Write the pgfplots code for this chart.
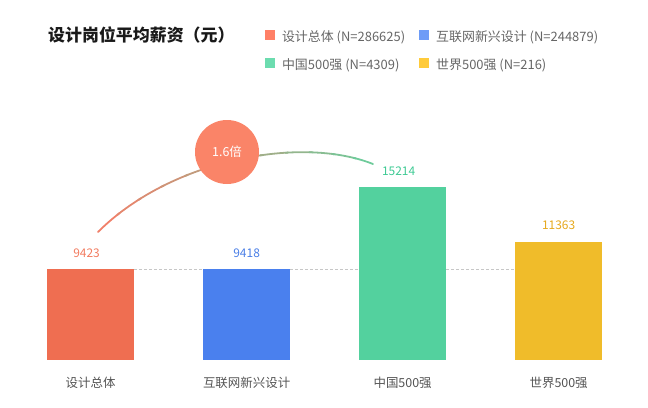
\documentclass[border=0pt]{standalone}
\usepackage{fontspec}
\setmainfont{Noto Sans CJK SC}
\usepackage{pgfplots}
\pgfplotsset{compat=1.18}
\definecolor{c1}{HTML}{EF6E51}
\definecolor{c2}{HTML}{4A80EE}
\definecolor{c3}{HTML}{53D19E}
\definecolor{c4}{HTML}{F0BC2A}
\definecolor{l1}{HTML}{FF8066}
\definecolor{l2}{HTML}{6E9CF7}
\definecolor{l3}{HTML}{6CDCAF}
\definecolor{l4}{HTML}{FFCB3B}
\definecolor{t1}{HTML}{F27C60}
\definecolor{t2}{HTML}{4B7FE6}
\definecolor{t3}{HTML}{3FCA94}
\definecolor{t4}{HTML}{E6A91E}
\definecolor{arcS}{HTML}{F0806A}
\definecolor{arcG}{HTML}{6FCB9B}
\definecolor{circ}{HTML}{FA8468}
\begin{document}
\begin{tikzpicture}[x=1bp,y=1bp]
\path (0,0) rectangle (648,407);
\node[anchor=west, font=\bfseries\fontsize{17}{20}\selectfont, text=black!90, inner sep=0pt] at (48,372) {设计岗位平均薪资（元）};
% connecting arc
\foreach \i in {0,...,11} {
  \pgfmathsetmacro\ta{\i/12}
  \pgfmathsetmacro\tb{min(1,(\i+1)/12+0.01)}
  \pgfmathtruncatemacro\mx{\i*100/11}
  \pgfsetstrokecolor{arcG!\mx!arcS}
  \pgfsetlinewidth{1.8bp}
  \pgfsetroundcap
  \pgfpathcurvebetweentime{\ta}{\tb}{\pgfpoint{98bp}{175bp}}{\pgfpoint{170bp}{247bp}}{\pgfpoint{300bp}{272bp}}{\pgfpoint{373bp}{243bp}}
  \pgfusepath{stroke}
}
\fill[circ] (227,255) circle (32);
\node[text=white, font=\fontsize{12.5}{15}\selectfont, inner sep=0pt] at (227,255) {1.6倍};
\begin{axis}[
  at={(47bp,47bp)}, anchor=south west, scale only axis,
  width=555bp, height=200bp,
  xmin=-0.2795, xmax=3.278, ymin=3000, ymax=17116,
  ybar, bar width=87bp,
  axis line style={draw=none},
  ytick=\empty, xtick={0,1,2,3},
  xticklabels={设计总体,互联网新兴设计,中国500强,世界500强},
  major tick length=0pt,
  xticklabel style={font=\fontsize{12.5}{15}\selectfont, text=black!67, anchor=center, yshift=-23bp},
  nodes near coords,
  every node near coord/.append style={font=\fontsize{12}{14}\selectfont, anchor=center, yshift=16bp},
  /pgf/number format/assume math mode=true,
  /pgf/number format/1000 sep={},
  legend columns=2,
  legend cell align=left,
  legend style={at={(0.3928,1.6485)}, anchor=north west, draw=none, fill=none,
    inner sep=0pt, outer sep=0pt, row sep=14bp,
    font=\fontsize{13}{15}\selectfont, text=black!60,
    nodes={inner sep=0pt, text height=9bp, text depth=3bp}},
  /tikz/every odd column/.append style={column sep=7bp},
  /tikz/every even column/.append style={column sep=14bp},
]
\draw[color=black!22, dash pattern=on 3bp off 2bp, line width=0.6bp] (axis cs:0.279,9418) -- (axis cs:0.721,9418);
\draw[color=black!22, dash pattern=on 3bp off 2bp, line width=0.6bp] (axis cs:1.279,9418) -- (axis cs:1.721,9418);
\draw[color=black!22, dash pattern=on 3bp off 2bp, line width=0.6bp] (axis cs:2.279,9418) -- (axis cs:2.721,9418);
\addplot[fill=c1, draw=none, bar shift=0pt, every node near coord/.append style={text=t1, xshift=-4bp},
  legend image code/.code={\fill[l1] (0bp,-2bp) rectangle (10bp,8bp);}] coordinates {(0,9423)};
\addlegendentry{设计总体 (N=286625)}
\addplot[fill=c2, draw=none, bar shift=0pt, every node near coord/.append style={text=t2},
  legend image code/.code={\fill[l2] (0bp,-2bp) rectangle (10bp,8bp);}] coordinates {(1,9418)};
\addlegendentry{互联网新兴设计 (N=244879)}
\addplot[fill=c3, draw=none, bar shift=0pt, every node near coord/.append style={text=t3, xshift=-4bp},
  legend image code/.code={\fill[l3] (0bp,-2bp) rectangle (10bp,8bp);}] coordinates {(2,15214)};
\addlegendentry{中国500强 (N=4309)}
\addplot[fill=c4, draw=none, bar shift=0pt, every node near coord/.append style={text=t4},
  legend image code/.code={\fill[l4] (0bp,-2bp) rectangle (10bp,8bp);}] coordinates {(3,11363)};
\addlegendentry{世界500强 (N=216)}
\end{axis}
\end{tikzpicture}
\end{document}
